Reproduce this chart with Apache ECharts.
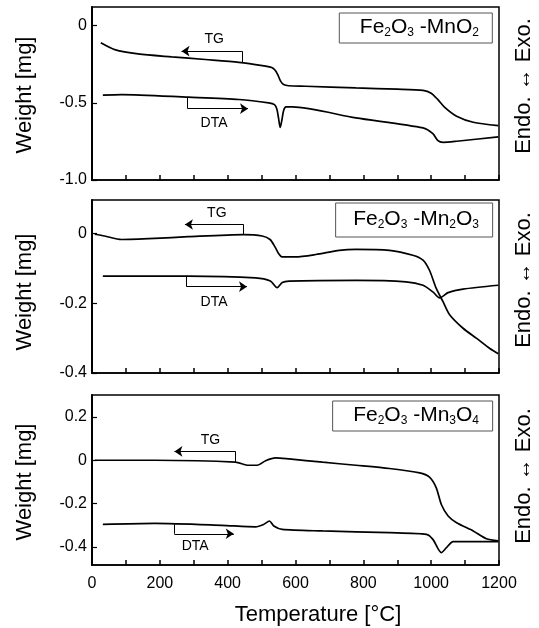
<!DOCTYPE html>
<html>
<head>
<meta charset="utf-8">
<script src="https://cdn.jsdelivr.net/npm/echarts@6/dist/echarts.min.js"></script>
<style>
  html, body { margin: 0; padding: 0; background: #fff; }
  #chart { width: 539px; height: 628px; }
</style>
</head>
<body>
<div id="chart"></div>
<script>
// ---- data: [temperature °C, weight mg] ----
const tg1 = [[26,-0.112],[67,-0.156],[136,-0.184],[235,-0.203],[334,-0.220],[433,-0.238],[502,-0.259],[530,-0.272],[540,-0.290],[548,-0.320],[556,-0.360],[565,-0.382],[580,-0.390],[630,-0.393],[778,-0.404],[900,-0.412],[976,-0.420],[1000,-0.438],[1020,-0.480],[1040,-0.530],[1075,-0.587],[1124,-0.626],[1198,-0.648]];
const dta1 = [[32,-0.451],[87,-0.447],[284,-0.464],[433,-0.479],[521,-0.501],[538,-0.512],[545,-0.540],[550,-0.600],[555,-0.660],[560,-0.610],[565,-0.550],[572,-0.527],[591,-0.527],[778,-0.598],[976,-0.663],[1005,-0.700],[1020,-0.745],[1035,-0.756],[1075,-0.749],[1198,-0.721]];

const tg2 = [[8,-0.003],[37,-0.008],[87,-0.018],[185,-0.015],[284,-0.010],[447,-0.004],[502,-0.008],[525,-0.018],[540,-0.040],[550,-0.058],[560,-0.068],[600,-0.068],[660,-0.061],[729,-0.049],[778,-0.046],[877,-0.049],[946,-0.063],[976,-0.077],[995,-0.106],[1015,-0.158],[1035,-0.196],[1055,-0.234],[1094,-0.272],[1134,-0.301],[1173,-0.330],[1198,-0.345]];
const dta2 = [[32,-0.123],[284,-0.123],[482,-0.128],[526,-0.137],[546,-0.156],[561,-0.141],[581,-0.137],[778,-0.135],[926,-0.139],[976,-0.149],[1005,-0.168],[1025,-0.185],[1050,-0.170],[1094,-0.160],[1198,-0.149]];

const tg3 = [[8,0],[185,0],[423,-0.009],[462,-0.023],[487,-0.023],[512,-0.002],[541,0.011],[581,0.006],[680,-0.009],[778,-0.023],[877,-0.038],[966,-0.058],[995,-0.078],[1015,-0.127],[1030,-0.204],[1050,-0.257],[1075,-0.288],[1124,-0.326],[1163,-0.362],[1198,-0.372]];
const dta3 = [[32,-0.296],[185,-0.291],[383,-0.300],[482,-0.307],[506,-0.296],[523,-0.280],[536,-0.303],[561,-0.319],[680,-0.326],[877,-0.334],[986,-0.342],[1005,-0.365],[1030,-0.426],[1045,-0.403],[1065,-0.375],[1198,-0.375]];

// y ticks and ranges per panel
const yTicks = [[0, -0.5, -1.0], [0, -0.2, -0.4], [0.2, 0, -0.2, -0.4]];
const yRange = [[-1.0, 0.12], [-0.4, 0.095], [-0.483, 0.301]];
const xTicks = [0, 200, 400, 600, 800, 1000, 1200];

// TG / DTA bracket arrows: [xBracket, yCurve, yLevel, xArrowEnd], label [x, y]
const tgArrow = [[442, -0.238, -0.166, 264], [447, -0.004, 0.025, 274], [423, -0.009, 0.041, 243]];
const tgLabel = [[360, -0.091], [368, 0.056], [349, 0.095]];
const dtaArrow = [[282, -0.464, -0.538, 460], [279, -0.123, -0.153, 457], [243, -0.296, -0.339, 418]];
const dtaLabel = [[360, -0.63], [360, -0.196], [304, -0.395]];

const titles = [
  '{a|Fe}{s|2}{a|O}{s|3}{a| -MnO}{s|2}',
  '{a|Fe}{s|2}{a|O}{s|3}{a| -Mn}{s|2}{a|O}{s|3}',
  '{a|Fe}{s|2}{a|O}{s|3}{a| -Mn}{s|3}{a|O}{s|4}'
];

const FONT = 'Liberation Sans, Arial, sans-serif';
const gridTops = [7, 200, 395];
const gridHeights = [173, 173, 170];

const chart = echarts.init(document.getElementById('chart'));

const bracket = (a) => [
  [{ coord: [a[0], a[1]], symbol: 'none' }, { coord: [a[0], a[2]], symbol: 'none' }],
  [{ coord: [a[0], a[2]], symbol: 'none' }, { coord: [a[3], a[2]], symbol: 'arrow' }]
];

const textMark = (pos, txt) => ({
  name: txt, coord: pos
});

const grids = [], xAxes = [], yAxes = [], series = [], titleList = [];
[0, 1, 2].forEach(i => {
  grids.push({
    left: 92, right: 40, top: gridTops[i], height: gridHeights[i],
    show: true, borderColor: '#000', borderWidth: 1.5
  });
  xAxes.push({
    type: 'value', gridIndex: i, min: 0, max: 1200, interval: 100,
    axisLine: { onZero: false, lineStyle: { color: '#000', width: 1.5 } },
    axisTick: { inside: true, length: 5, lineStyle: { color: '#000', width: 1.5 } },
    axisLabel: {
      show: i === 2, customValues: xTicks, margin: 11,
      color: '#000', fontSize: 16, fontFamily: FONT,
      formatter: v => String(v)
    },
    splitLine: { show: false }
  });
  yAxes.push({
    type: 'value', gridIndex: i, min: yRange[i][0], max: yRange[i][1],
    axisLine: { show: true, onZero: false, lineStyle: { color: '#000', width: 2 } },
    axisTick: { inside: true, length: 5, customValues: yTicks[i], lineStyle: { color: '#000', width: 1.2 } },
    axisLabel: {
      customValues: yTicks[i], margin: 5, color: '#000', fontSize: 16, fontFamily: FONT,
      formatter: v => (Math.abs(v) < 1e-9 ? '0' : v.toFixed(1))
    },
    splitLine: { show: false }
  });
  titleList.push({
    text: titles[i], right: 46, top: gridTops[i] + (i === 1 ? 2 : 5),
    borderColor: '#555', borderWidth: 1,
    padding: i === 1 ? [6.5, 14, 6.5, 18] : [4.5, 14, 4.5, 21],
    textStyle: {
      fontWeight: 'normal',
      rich: {
        a: { fontSize: 21, fontFamily: FONT, fontWeight: 'normal', color: '#000', lineHeight: 22 },
        s: { fontSize: 12, fontFamily: FONT, fontWeight: 'normal', color: '#000', lineHeight: 12, verticalAlign: 'bottom' }
      }
    }
  });
});

const tgs = [tg1, tg2, tg3];
const dtas = [dta1, dta2, dta3];
[0, 1, 2].forEach(i => {
  const markLbl = {
    show: true, formatter: '{b}', position: 'inside',
    color: '#000', fontSize: 14, fontFamily: FONT
  };
  series.push({
    type: 'line', name: 'TG' + (i + 1), xAxisIndex: i, yAxisIndex: i,
    data: tgs[i], showSymbol: false, smooth: 0.25,
    lineStyle: { color: '#000', width: 1.7 },
    markLine: {
      silent: true, animation: false, symbolSize: 8,
      label: { show: false },
      lineStyle: { color: '#000', width: 1, type: 'solid' },
      data: bracket(tgArrow[i])
    },
    markPoint: {
      silent: true, animation: false, symbol: 'circle', symbolSize: 1,
      itemStyle: { color: 'rgba(0,0,0,0)' }, label: markLbl,
      data: [textMark(tgLabel[i], 'TG')]
    }
  });
  series.push({
    type: 'line', name: 'DTA' + (i + 1), xAxisIndex: i, yAxisIndex: i,
    data: dtas[i], showSymbol: false, smooth: 0.25,
    lineStyle: { color: '#000', width: 1.7 },
    markLine: {
      silent: true, animation: false, symbolSize: 8,
      label: { show: false },
      lineStyle: { color: '#000', width: 1, type: 'solid' },
      data: bracket(dtaArrow[i])
    },
    markPoint: {
      silent: true, animation: false, symbol: 'circle', symbolSize: 1,
      itemStyle: { color: 'rgba(0,0,0,0)' }, label: markLbl,
      data: [textMark(dtaLabel[i], 'DTA')]
    }
  });
});

// side labels
const sideText = [];
const weightY = [95, 292, 482];
const endoY = [86, 280, 476];
[0, 1, 2].forEach(i => {
  sideText.push({
    type: 'text', x: 25, y: weightY[i], rotation: Math.PI / 2,
    style: { text: 'Weight [mg]', fontSize: 22, fontFamily: FONT, fill: '#000', align: 'center', verticalAlign: 'middle' }
  });
  sideText.push({
    type: 'text', x: 524, y: endoY[i], rotation: Math.PI / 2,
    style: { text: 'Endo. \u2194 Exo.', fontSize: 22, fontFamily: FONT, fill: '#000', align: 'center', verticalAlign: 'middle' }
  });
});
sideText.push({
  type: 'text', x: 318, y: 615,
  style: { text: 'Temperature [\u00B0C]', fontSize: 22, fontFamily: FONT, fill: '#000', align: 'center', verticalAlign: 'middle' }
});

chart.setOption({
  animation: false,
  backgroundColor: '#fff',
  title: titleList,
  grid: grids,
  xAxis: xAxes,
  yAxis: yAxes,
  series: series,
  graphic: sideText
});
</script>
</body>
</html>
